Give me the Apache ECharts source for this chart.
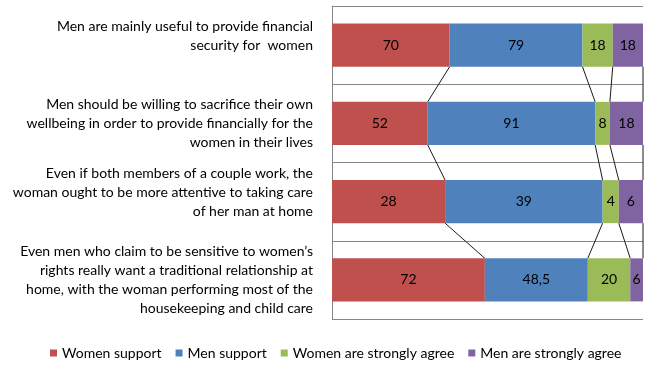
<!DOCTYPE html>
<html>
<head>
<meta charset="utf-8">
<script src="https://cdn.jsdelivr.net/npm/echarts@6/dist/echarts.min.js"></script>
<style>
html,body{margin:0;padding:0;background:#fff;}
#chart{width:650px;height:365px;}
</style>
</head>
<body>
<div id="chart"></div>
<script>
const categories = [
  "Men are mainly useful to provide financial\nsecurity for  women\n",
  "Men should be willing to sacrifice their own\nwellbeing in order to provide financially for the\nwomen in their lives",
  "Even if both members of a couple work, the\nwoman ought to be more attentive to taking care\nof her man at home\n",
  "Even men who claim to be sensitive to women\u2019s\nrights really want a traditional relationship at\nhome, with the woman performing most of the\nhousekeeping and child care"
];
const seriesNames = ["Women support", "Men support", "Women are strongly agree", "Men are strongly agree"];
const womenSupport = [70, 52, 28, 72];
const menSupport = [79, 91, 39, 48.5];
const womenStronglyAgree = [18, 8, 4, 20];
const menStronglyAgree = [18, 18, 6, 6];
const colors = ["#C0504D", "#4F81BD", "#9BBB59", "#8064A2"];

const FONT = "Lato";
const raw = [womenSupport, menSupport, womenStronglyAgree, menStronglyAgree];
const totals = categories.map((_, i) => raw.reduce((s, arr) => s + arr[i], 0));
const pct = raw.map(arr => arr.map((v, i) => v / totals[i] * 100));

// series-line connectors between consecutive bars (at the end of each segment)
const cum = categories.map((_, i) => {
  let s = 0; return pct.map(arr => (s += arr[i]));
});
const connectorData = [];
for (let i = 0; i < categories.length - 1; i++) {
  for (let k = 0; k < raw.length; k++) {
    connectorData.push([cum[i][k], i, cum[i + 1][k], i + 1]);
  }
}

const BAR_RATIO = 0.55;
const barSeries = raw.map((arr, k) => ({
  name: seriesNames[k],
  type: 'bar',
  stack: 'total',
  barWidth: (BAR_RATIO * 100) + '%',
  itemStyle: { color: colors[k] },
  label: {
    show: true,
    position: 'inside',
    color: '#000',
    fontFamily: FONT,
    fontSize: 14,
    formatter: p => String(arr[p.dataIndex]).replace('.', ',')
  },
  data: pct[k]
}));

const chart = echarts.init(document.getElementById('chart'));
chart.setOption({
  animation: false,
  backgroundColor: '#fff',
  textStyle: { fontFamily: FONT },
  grid: { left: 332, right: 7, top: 6, bottom: 46 },
  legend: {
    data: seriesNames,
    left: 45,
    top: 341,
    icon: 'rect',
    itemWidth: 7,
    itemHeight: 7,
    itemGap: 14,
    textStyle: { color: '#000', fontSize: 14, fontFamily: FONT }
  },
  xAxis: {
    type: 'value', min: 0, max: 100,
    show: false
  },
  yAxis: {
    type: 'category',
    inverse: true,
    data: categories,
    axisLine: { show: true, lineStyle: { color: '#868686' } },
    axisTick: { show: false },
    splitLine: { show: true, lineStyle: { color: '#868686' } },
    axisLabel: {
      color: '#000', fontSize: 14, fontFamily: FONT,
      lineHeight: 19, margin: 19, align: 'right'
    }
  },
  series: barSeries.concat([{
    type: 'custom',
    name: 'connectors',
    silent: true,
    data: connectorData,
    encode: { x: [0, 2], y: [1, 3] },
    renderItem: function (params, api) {
      const p1 = api.coord([api.value(0), api.value(1)]);
      const p2 = api.coord([api.value(2), api.value(3)]);
      const h = api.size([0, 1])[1] * BAR_RATIO / 2;
      return {
        type: 'line',
        shape: { x1: p1[0], y1: p1[1] + h, x2: p2[0], y2: p2[1] - h },
        style: { stroke: '#1a1a1a', lineWidth: 1 }
      };
    }
  }])
});
</script>
</body>
</html>
